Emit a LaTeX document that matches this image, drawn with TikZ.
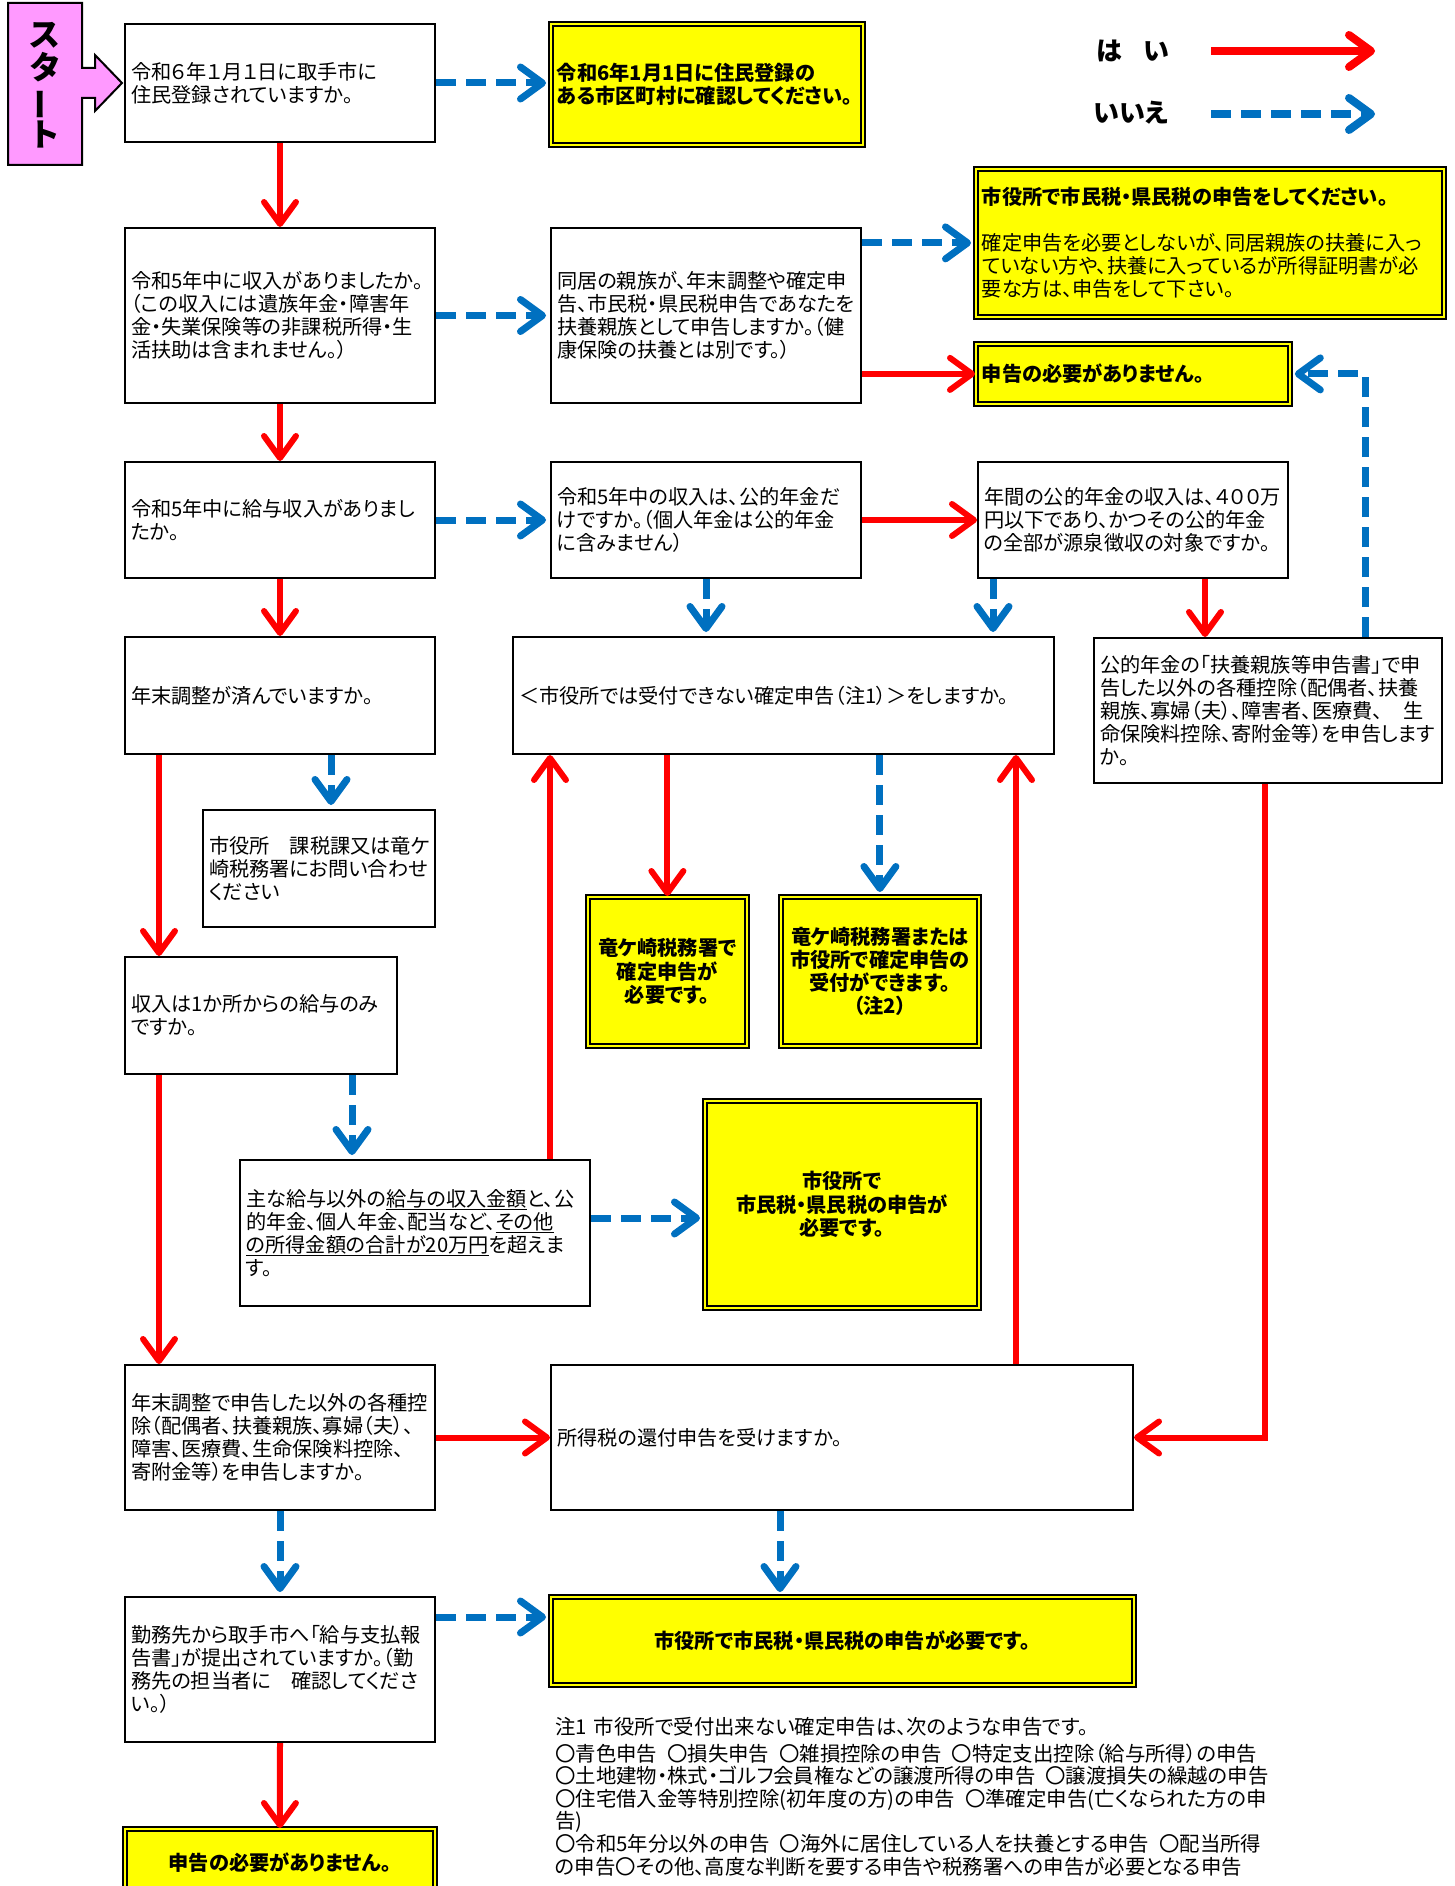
\documentclass[tikz,border=0pt]{standalone}
\usepackage{fontspec}
\usepackage{graphicx}
\setmainfont{Noto Sans CJK JP}[RawFeature={+palt}]
\usetikzlibrary{arrows.meta,calc}
\definecolor{ared}{RGB}{255,0,0}
\definecolor{ablue}{RGB}{0,112,192}
\definecolor{ayellow}{RGB}{255,255,0}
\definecolor{apink}{RGB}{255,153,255}
\newcommand\nsp{\hspace{10pt}}
\tikzset{
  boxbase/.style={anchor=north west, inner sep=0pt},
  qbox/.style n args={3}{boxbase, draw=black, line width=2pt, fill=white, minimum width=#1, minimum height=#2, text width=#3, align=left, font=\fontsize{20.2}{23.2}\selectfont},
  ybox/.style n args={3}{boxbase, draw=black, line width=1.8pt, double=ayellow, double distance=2.6pt, fill=ayellow, minimum width=#1, minimum height=#2, text width=#3, font=\fontsize{20.2}{23.2}\selectfont\bfseries},
  yes/.style={draw=ared, line width=6pt, -{Straight Barb[length=22pt,width=32pt,round]}},
  no/.style={draw=ablue, line width=7pt, dash pattern=on 20pt off 10pt, shorten >=4pt, -{Straight Barb[length=22pt,width=32pt,round]}},
  legend/.style={font=\fontsize{26}{28}\selectfont\bfseries},
}
\begin{document}
\begin{tikzpicture}[x=1pt,y=-1pt]
\useasboundingbox (0,0) rectangle (1454,1886);
\fill[white] (0,0) rectangle (1454,1886);

% start
\draw[fill=apink, line width=2pt, line join=miter] (8,3) -- (82,3) -- (82,68) -- (95,68) -- (95,55) -- (122,83) -- (95,111) -- (95,98) -- (82,98) -- (82,165) -- (8,165) -- cycle;
\node[font=\fontsize{32}{33}\selectfont\bfseries, align=center, inner sep=0pt] (start) at (45,85) {ス\\タ\\\rotatebox[origin=c]{90}{ー}\\ト};

% legend
\node[legend] (hai) at (1133,51) {は\hspace{0.8em}い};
\node[legend] (iie) at (1131,113) {いいえ};
\coordinate (hs) at (1211,51); \coordinate (he) at (1375,51);
\coordinate (ns) at (1211,114); \coordinate (ne) at (1375,114);
\draw[yes, line width=8pt] (hs) -- (he);
\draw[no, line width=8pt, shorten >=0pt] (ns) -- (ne);

% boxes
\node[qbox={310pt}{118pt}{298pt}] (q1) at (124,23) {令和６年１月１日に取手市に\\住民登録されていますか。};
\node[ybox={312pt}{121pt}{300pt}, align=left] (y1) at (550,23) {令和6年1月1日に住民登録の\\ある市区町村に確認してください。};
\node[qbox={310pt}{175pt}{298pt}] (q2) at (124,227) {令和5年中に収入がありましたか。\\（この収入には遺族年金・障害年\\金・失業保険等の非課税所得・生\\活扶助は含まれません。）};
\node[qbox={310pt}{175pt}{298pt}] (q3) at (550,227) {同居の親族が、年末調整や確定申\\告、市民税・県民税申告であなたを\\扶養親族として申告しますか。（健\\康保険の扶養とは別です。）};
\node[ybox={468pt}{148pt}{456pt}, align=left, font=\fontsize{20.2}{23.2}\selectfont] (y2) at (975,168) {{\bfseries 市役所で市民税・県民税の申告をしてください。}\\[22pt]確定申告を必要としないが、同居親族の扶養に入っ\\ていない方や、扶養に入っているが所得証明書が必\\要な方は、申告をして下さい。};
\node[ybox={314pt}{60pt}{302pt}, align=left] (y3) at (975,343) {申告の必要がありません。};
\node[qbox={310pt}{116pt}{298pt}] (q4) at (124,461) {令和5年中に給与収入がありまし\\たか。};
\node[qbox={310pt}{116pt}{298pt}] (q5) at (550,461) {令和5年中の収入は、公的年金だ\\けですか。（個人年金は公的年金\\に含みません）};
\node[qbox={310pt}{116pt}{298pt}] (q6) at (977,461) {年間の公的年金の収入は、４００万\\円以下であり、かつその公的年金\\の全部が源泉徴収の対象ですか。};
\node[qbox={310pt}{117pt}{298pt}] (q7) at (124,636) {年末調整が済んでいますか。};
\node[qbox={541pt}{117pt}{529pt}] (q8) at (512,636) {＜市役所では受付できない確定申告（注1）＞をしますか。};
\node[qbox={348pt}{145pt}{336pt}] (q9) at (1093,637) {公的年金の「扶養親族等申告書」で申\\告した以外の各種控除（配偶者、扶養\\親族、寡婦（夫）、障害者、医療費、　生\\命保険料控除、寄附金等）を申告します\\か。};
\node[qbox={232pt}{117pt}{220pt}] (info) at (202,809) {市役所　課税課又は竜ケ\\崎税務署にお問い合わせ\\ください};
\node[ybox={159pt}{149pt}{147pt}, align=center] (y4) at (587,896) {竜ケ崎税務署で\\確定申告が\\必要です。};
\node[ybox={198pt}{149pt}{186pt}, align=center] (y5) at (780,896) {竜ケ崎税務署または\\市役所で確定申告の\\受付ができます。\\（注2）};
\node[qbox={272pt}{117pt}{260pt}] (q10) at (124,956) {収入は1か所からの給与のみ\\ですか。};
\node[qbox={350pt}{146pt}{338pt}] (q11) at (239,1159) {主な給与以外の\underline{給与の収入金額}と、公\\的年金、個人年金、配当など、\underline{その他}\\\underline{の所得金額の合計が20万円}を超えま\\す。};
\node[ybox={274pt}{207pt}{262pt}, align=center] (y6) at (704,1100) {市役所で\\市民税・県民税の申告が\\必要です。};
\node[qbox={310pt}{145pt}{298pt}] (q13) at (124,1364) {年末調整で申告した以外の各種控\\除（配偶者、扶養親族、寡婦（夫）、\\障害、医療費、生命保険料控除、\\寄附金等）を申告しますか。};
\node[qbox={582pt}{145pt}{570pt}] (q12) at (550,1364) {所得税の還付申告を受けますか。};
\node[qbox={310pt}{145pt}{298pt}] (q14) at (124,1596) {勤務先から取手市へ「給与支払報\\告書」が提出されていますか。（勤\\務先の担当者に　確認してくださ\\い。）};
\node[ybox={583pt}{88pt}{571pt}, align=center] (y7) at (550,1596) {市役所で市民税・県民税の申告が必要です。};
\node[ybox={310pt}{67pt}{298pt}, align=center] (y8) at (124,1828) {申告の必要がありません。};

\node[anchor=north west, inner sep=0pt, align=left, text width=890pt, font=\fontsize{20.4}{22.6}\selectfont] (note) at (555,1717) {注1 市役所で受付出来ない確定申告は、次のような申告です。\\[4pt]
〇青色申告\nsp〇損失申告\nsp〇雑損控除の申告\nsp〇特定支出控除（給与所得）の申告\\
〇土地建物・株式・ゴルフ会員権などの譲渡所得の申告\nsp〇譲渡損失の繰越の申告\\
〇住宅借入金等特別控除(初年度の方)の申告\nsp〇準確定申告(亡くなられた方の申\\
告)\\
〇令和5年分以外の申告\nsp〇海外に居住している人を扶養とする申告\nsp〇配当所得\\
の申告〇その他、高度な判断を要する申告や税務署への申告が必要となる申告};

% connectors
\draw[no] (q1.east) -- (q1.east -| y1.west);
\draw[yes] (q1.south) -- (q2.north);
\draw[no] (q2.east) -- (q2.east -| q3.west);
\draw[no] (q3.east |- y2.west) -- (y2.west);
\draw[yes] (q3.east |- y3.west) -- (y3.west);
\draw[yes] (q2.south) -- (q4.north);
\draw[no] (q4.east) -- (q5.west);
\draw[yes] (q5.east) -- (q6.west);
\draw[yes] (q4.south) -- (q7.north);
\draw[no] (q5.south) -- (q5.south |- q8.north);
\path ($(q6.south west)+(16,0)$) coordinate (a6);
\draw[no] (a6) -- (a6 |- q8.north);
\path ($(q6.south west)+(228,0)$) coordinate (a7);
\draw[yes] (a7) -- (a7 |- q9.north);
\path ($(q9.north west)+(272,0)$) coordinate (a8);
\draw[no] (a8) |- (y3.east);
\path ($(q7.south west)+(207,0)$) coordinate (a9);
\draw[no] (a9) -- (a9 |- info.north);
\path ($(q7.south west)+(35,0)$) coordinate (a10);
\draw[yes] (a10) -- (a10 |- q10.north);
\draw[yes] (y4.north |- q8.south) -- (y4.north);
\draw[no] (y5.north |- q8.south) -- (y5.north);
\path ($(q11.north west)+(311,0)$) coordinate (a12);
\draw[yes] (a12) -- (a12 |- q8.south);
\path ($(q12.north west)+(466,0)$) coordinate (a13);
\draw[yes] (a13) -- (a13 |- q8.south);
\path ($(q10.south west)+(228,0)$) coordinate (a14);
\draw[no] (a14) -- (a14 |- q11.north);
\path ($(q11.east)+(0,-15)$) coordinate (a15);
\draw[no] (a15) -- (a15 -| y6.west);
\path ($(q10.south west)+(35,0)$) coordinate (a16);
\draw[yes] (a16) -- (a16 |- q13.north);
\draw[yes] (q13.east) -- (q12.west);
\path ($(q9.south west)+(172,0)$) coordinate (a17);
\draw[yes] (a17) |- (q12.east);
\path ($(q12.south west)+(230,0)$) coordinate (a18);
\draw[no] (a18) -- (a18 |- y7.north);
\draw[no] (q13.south) -- (q14.north);
\path ($(q14.north east)+(0,21)$) coordinate (a19);
\draw[no] (a19) -- (a19 -| y7.west);
\draw[yes] (q14.south) -- (y8.north);
\end{tikzpicture}
\end{document}
